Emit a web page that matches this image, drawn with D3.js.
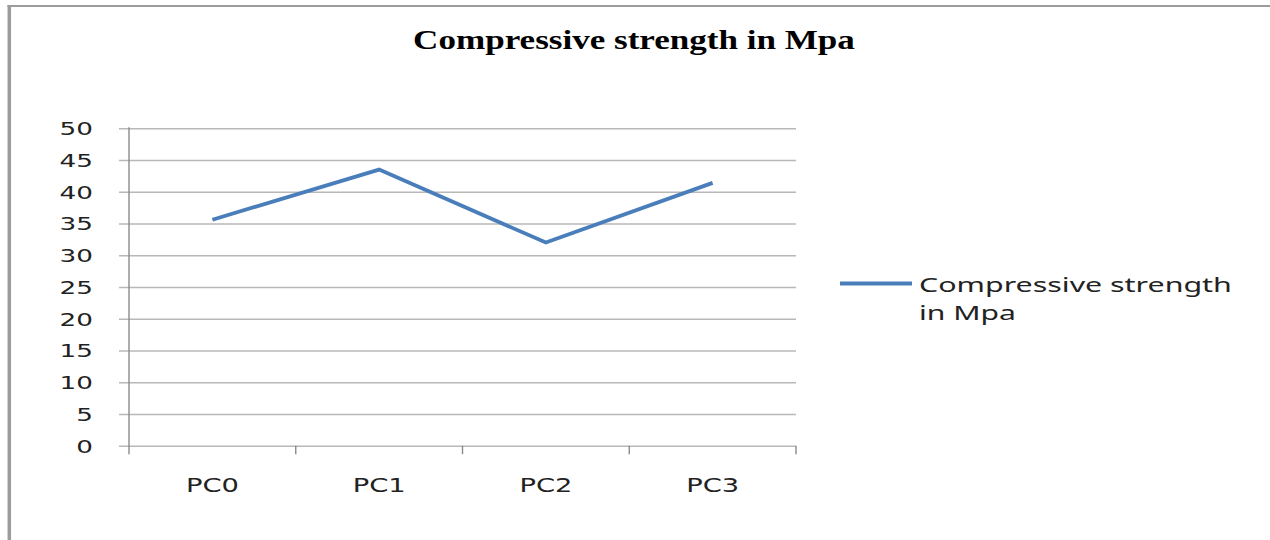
<!DOCTYPE html>
<html>
<head>
<meta charset="utf-8">
<script src="https://cdn.jsdelivr.net/npm/d3@7/dist/d3.min.js"></script>
<style>
  html, body { margin: 0; padding: 0; background: #fff; }
  svg { display: block; }
</style>
</head>
<body>
<svg id="chart" width="1270" height="540"></svg>
<script>
const categories = ["PC0", "PC1", "PC2", "PC3"];
const strengthValues = [35.6, 43.5, 32.0, 41.4];
const yTicks = [0, 5, 10, 15, 20, 25, 30, 35, 40, 45, 50];
const titleText = "Compressive strength in Mpa";
const legendLines = ["Compressive strength", "in Mpa"];

const svg = d3.select("#chart");
const W = 1270, H = 540;
const plot = { left: 129, right: 796, top: 128.3, bottom: 445.7 };
const SX = 1.45; // horizontal stretch of the original picture
const lineColor = "#4a7ebb";

// helper: text stretched horizontally to given width
function stretchedText(g, str, x, y, opts) {
  const t = g.append("text")
    .text(str)
    .attr("x", 0).attr("y", 0)
    .attr("font-family", opts.family)
    .attr("font-size", opts.size)
    .attr("font-weight", opts.weight || "normal")
    .attr("fill", opts.fill || "#000")
    .attr("text-anchor", opts.anchor || "start");
  const natural = t.node().getComputedTextLength();
  const s = opts.width ? opts.width / natural : (opts.sx || SX);
  t.attr("transform", `translate(${x},${y}) scale(${s},1)`);
  return t;
}

// border
svg.append("line").attr("x1", 9.3).attr("x2", 9.3).attr("y1", 5).attr("y2", H)
  .attr("stroke", "#9c9c9c").attr("stroke-width", 3.5);
svg.append("line").attr("x1", 7.5).attr("x2", W).attr("y1", 6).attr("y2", 6)
  .attr("stroke", "#9c9c9c").attr("stroke-width", 2);

// scales
const x = d3.scaleBand().domain(categories).range([plot.left, plot.right]).padding(0);
const y = d3.scaleLinear().domain([0, 50]).range([plot.bottom, plot.top]);

// gridlines via axis
const gridG = svg.append("g").attr("transform", `translate(${plot.right},0)`)
  .call(d3.axisLeft(y).tickValues(yTicks).tickSize(plot.right - plot.left + 10).tickFormat(""));
gridG.select(".domain").remove();
gridG.selectAll(".tick line").attr("stroke", "#b8b8b8").attr("stroke-width", 1.6);

// y axis line
svg.append("line").attr("x1", plot.left).attr("x2", plot.left)
  .attr("y1", plot.top - 1).attr("y2", plot.bottom + 8.5)
  .attr("stroke", "#8a8a8a").attr("stroke-width", 1.4);

// x axis ticks at band boundaries
const bounds = categories.map(c => x(c)).concat([x(categories[categories.length - 1]) + x.bandwidth()]);
svg.append("g").selectAll("line").data(bounds.slice(1)).join("line")
  .attr("x1", d => d).attr("x2", d => d)
  .attr("y1", plot.bottom).attr("y2", plot.bottom + 8.5)
  .attr("stroke", "#8a8a8a").attr("stroke-width", 1.4);

// y labels
const yLab = svg.append("g");
yTicks.forEach(v => {
  stretchedText(yLab, String(v), 93, y(v) + 6.8,
    { family: "DejaVu Sans", size: 18.5, anchor: "end", fill: "#222", sx: 1.42 });
});

// x labels
const xLab = svg.append("g");
categories.forEach(c => {
  stretchedText(xLab, c, x(c) + x.bandwidth() / 2, 492,
    { family: "DejaVu Sans", size: 19.5, anchor: "middle", fill: "#222", width: 53 });
});

// line
const line = d3.line()
  .x((d, i) => x(categories[i]) + x.bandwidth() / 2)
  .y(d => y(d));
svg.append("path").datum(strengthValues)
  .attr("d", line)
  .attr("fill", "none")
  .attr("stroke", lineColor)
  .attr("stroke-width", 3.8)
  .attr("stroke-linejoin", "miter")
  .attr("stroke-linecap", "butt");

// title
stretchedText(svg, titleText, 634, 49,
  { family: "Liberation Serif", size: 27, weight: "bold", anchor: "middle", width: 442 });

// legend
svg.append("line").attr("x1", 840).attr("x2", 912).attr("y1", 283.5).attr("y2", 283.5)
  .attr("stroke", lineColor).attr("stroke-width", 3.8);
const lg = svg.append("g");
stretchedText(lg, legendLines[0], 919, 292,
  { family: "Noto Sans", size: 19.5, fill: "#222", width: 313 });
stretchedText(lg, legendLines[1], 919, 320,
  { family: "Noto Sans", size: 19.5, fill: "#222", width: 97 });
</script>
</body>
</html>
